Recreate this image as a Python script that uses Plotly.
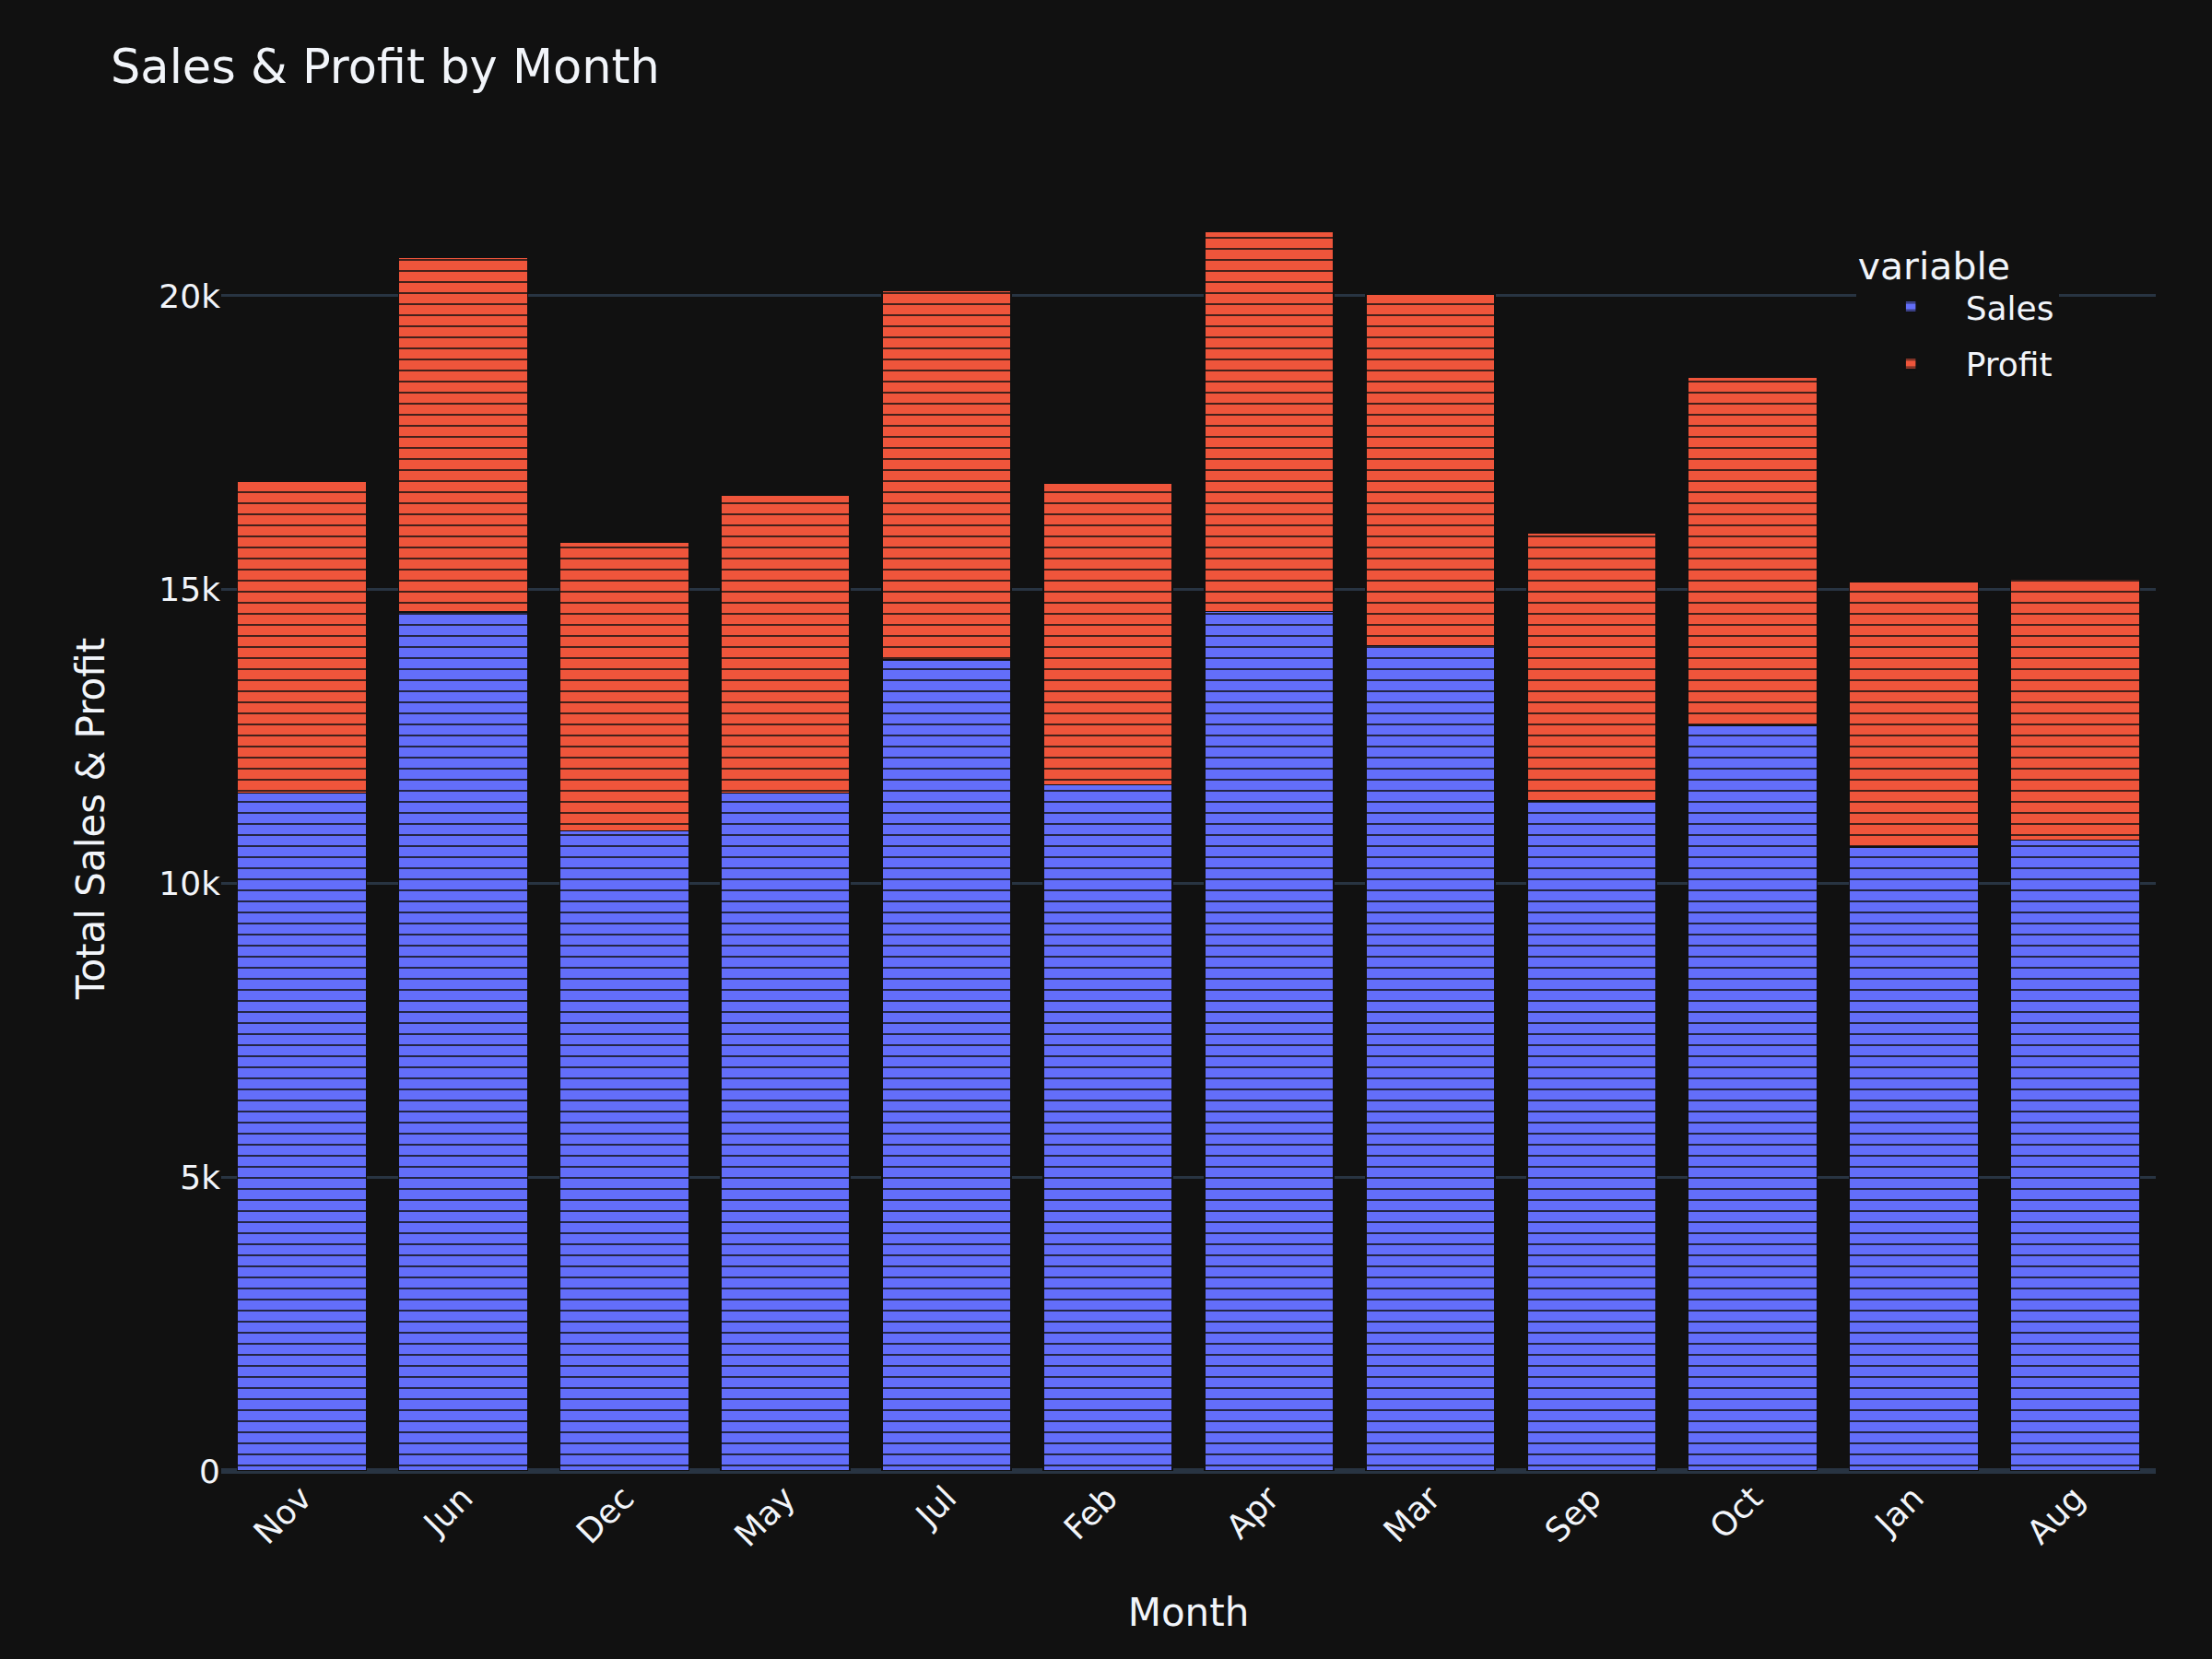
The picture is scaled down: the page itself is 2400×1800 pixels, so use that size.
import plotly.graph_objects as go

months = ["Nov", "Jun", "Dec", "May", "Jul", "Feb", "Apr", "Mar", "Sep", "Oct", "Jan", "Aug"]
sales = [11540, 14620, 10890, 11540, 13800, 11680, 14630, 14050, 11400, 12690, 10620, 10740]
profit = [5300, 6030, 4920, 5070, 6290, 5130, 6470, 5980, 4570, 5920, 4510, 4440]

S = 3  # scale factor (reference was rendered at 3x)
DARK = "rgb(17,17,17)"
FONT = "DejaVu Sans"


def bar(name, y, color):
    return go.Bar(
        x=months, y=y, name=name, legendgroup=name,
        marker=dict(
            color=color,
            line=dict(color=DARK, width=0.5 * S),
            pattern=dict(shape="-", fillmode="overlay", fgcolor=DARK,
                         fgopacity=1, size=12, solidity=0.13),
        ),
    )


fig = go.Figure([bar("Sales", sales, "#636efa"), bar("Profit", profit, "#EF553B")])

fig.update_layout(
    template="plotly_dark",
    width=2400, height=1800,
    barmode="stack", bargap=0.2,
    font=dict(family=FONT, size=12 * S, color="#f2f5fa"),
    title=dict(text="Sales & Profit by Month", x=0.05, font=dict(family=FONT, size=17 * S)),
    margin=dict(l=80 * S, r=61, t=180, b=204),
    legend=dict(title=dict(text="variable", font=dict(size=41)),
                traceorder="grouped", tracegroupgap=12,
                itemwidth=109, entrywidth=250,
                x=0.845, xanchor="left", y=0.951, yanchor="top",
                font=dict(size=12 * S)),
    xaxis=dict(title=dict(text="Month", font=dict(size=14 * S), standoff=49), tickangle=-45,
               showgrid=False, categoryorder="array", categoryarray=months),
    yaxis=dict(title=dict(text="Total Sales & Profit", font=dict(size=14 * S), standoff=45),
               dtick=5000, gridcolor="#283442", gridwidth=1 * S,
               zerolinecolor="#283442", zerolinewidth=2 * S),
)

fig.write_html("out.html")
